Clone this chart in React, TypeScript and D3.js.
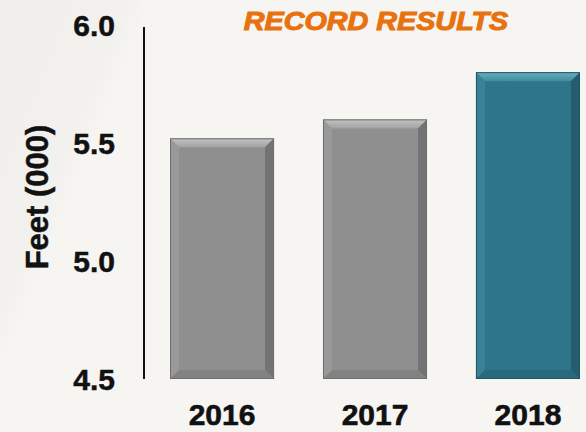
import React from "react";
import * as d3 from "d3";

const years = ["2016", "2017", "2018"];
const values = [5.52, 5.6, 5.8];
const highlight = [false, false, true];
const yTicks = [4.5, 5.0, 5.5, 6.0];
const titleText = "RECORD RESULTS";
const yAxisTitle = "Feet (000)";

const W = 586;
const H = 432;

export default function App() {
  const y = d3.scaleLinear().domain([4.5, 6.0]).range([379, 25]);
  const x = d3
    .scaleBand<string>()
    .domain(years)
    .range([144, 606])
    .paddingInner(0.32)
    .paddingOuter(0.17);
  const bw = x.bandwidth();
  const bev = 9;
  const font = "'Liberation Sans', Arial, sans-serif";

  return (
    <svg width={W} height={H} style={{ position: "absolute", left: 0, top: 0 }}>
      <defs>
        <linearGradient id="bg" x1="0" y1="0" x2="1" y2="0.3">
          <stop offset="0" stopColor="#f0efeb" />
          <stop offset="0.2" stopColor="#f2f1ed" />
          <stop offset="0.24" stopColor="#f6f5f1" />
          <stop offset="1" stopColor="#f6f5f1" />
        </linearGradient>
        <linearGradient id="topGray" x1="0" y1="0" x2="0" y2="1">
          <stop offset="0" stopColor="#c4c4c4" />
          <stop offset="1" stopColor="#a2a2a2" />
        </linearGradient>
        <linearGradient id="topTeal" x1="0" y1="0" x2="0" y2="1">
          <stop offset="0" stopColor="#6bb0c2" />
          <stop offset="1" stopColor="#3f8aa0" />
        </linearGradient>
      </defs>
      <rect x={0} y={0} width={W} height={H} fill="url(#bg)" />
      <text
        transform="translate(376,30) scale(1.15,1)"
        textAnchor="middle"
        fontFamily={font}
        fontWeight={900}
        fontStyle="italic"
        fontSize={25}
        fill="#e8720f"
        stroke="#e8720f"
        strokeWidth={1}
      >
        {titleText}
      </text>
      {years.map((yr, i) => {
        const x0 = x(yr)!;
        const x1 = x0 + bw;
        const y0 = y(values[i]);
        const y1 = y(4.5);
        const hi = highlight[i];
        const base = hi ? "#2f758a" : "#8f8f8f";
        const top = hi ? "url(#topTeal)" : "url(#topGray)";
        const left = hi ? "#3a8196" : "#999999";
        const right = hi ? "#235d6e" : "#737373";
        const bottom = hi ? "#286a7d" : "#828282";
        const edge = hi ? "#1f5566" : "#6e6e6e";
        return (
          <g key={yr}>
            <rect x={x0} y={y0} width={bw} height={y1 - y0} fill={base} />
            <polygon
              points={`${x0},${y0} ${x1},${y0} ${x1 - bev},${y0 + bev} ${x0 + bev},${y0 + bev}`}
              fill={top}
            />
            <polygon
              points={`${x0},${y0} ${x0 + bev},${y0 + bev} ${x0 + bev},${y1 - bev} ${x0},${y1}`}
              fill={left}
            />
            <polygon
              points={`${x1},${y0} ${x1},${y1} ${x1 - bev},${y1 - bev} ${x1 - bev},${y0 + bev}`}
              fill={right}
            />
            <polygon
              points={`${x0},${y1} ${x0 + bev},${y1 - bev} ${x1 - bev},${y1 - bev} ${x1},${y1}`}
              fill={bottom}
            />
            <rect
              x={x0 + 0.5}
              y={y0 + 0.5}
              width={bw - 1}
              height={y1 - y0 - 1}
              fill="none"
              stroke={edge}
              strokeWidth={1}
            />
            <text
              x={x0 + bw / 2}
              y={425}
              textAnchor="middle"
              fontFamily={font}
              fontWeight="bold"
              fontSize={30}
              fill="#111"
              stroke="#111"
              strokeWidth={0.6}
            >
              {yr}
            </text>
          </g>
        );
      })}
      <line x1={144} x2={144} y1={27} y2={379} stroke="#111" strokeWidth={2} />
      {yTicks.map((t) => (
        <text
          key={t}
          x={115}
          y={y(t) + 11}
          textAnchor="end"
          fontFamily={font}
          fontWeight="bold"
          fontSize={30}
          fill="#111"
          stroke="#111"
          strokeWidth={0.5}
        >
          {t.toFixed(1)}
        </text>
      ))}
      <text
        transform="translate(48,197) rotate(-90)"
        textAnchor="middle"
        fontFamily={font}
        fontWeight="bold"
        fontSize={31}
        fill="#111"
        stroke="#111"
        strokeWidth={0.5}
      >
        {yAxisTitle}
      </text>
    </svg>
  );
}
